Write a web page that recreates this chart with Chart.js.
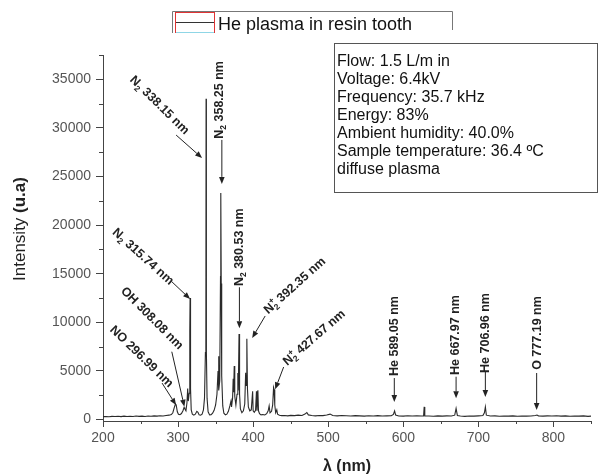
<!DOCTYPE html>
<html>
<head>
<meta charset="utf-8">
<script src="https://cdn.jsdelivr.net/npm/chart.js@4"></script>
<style>
  html, body { margin: 0; padding: 0; background: #fff; }
  #wrap { width: 601px; height: 474px; }
</style>
</head>
<body>
<div id="wrap"><canvas id="chart" width="601" height="474"></canvas></div>
<script>
// spectrum (nm / counts)
const wavelengths = [
  200, 204, 208, 212, 216, 220, 224, 228, 232, 236, 240, 244, 248, 252, 256, 260, 264, 268, 272, 276,
  280, 284, 288, 291, 293, 295, 296.5, 297.5, 299, 300.5, 302.5, 304.5, 306.5, 308, 309, 310.5, 311.8,
  312.8, 313.6, 314.8, 315.6, 316.0, 316.6, 317.5, 319, 321, 323, 325, 326.5, 328, 330, 332, 333.8, 335.2,
  336.4, 337.0, 337.3, 337.7, 338.6, 340, 342, 344, 346, 348, 350, 351.8, 353.2, 353.8, 354.5, 355.5,
  356.5, 356.9, 357.5, 358.1, 359.5, 361, 363, 365, 367, 369, 370.5, 371.2, 372.6, 373.4, 374, 374.8,
  375.5, 377, 378.5, 379.6, 380.2, 381.2, 381.9, 383, 385, 387, 388.8, 390, 390.6, 391.6, 392.4, 393.6,
  395.5, 397.5, 399.3, 400, 401.5, 403.2, 404.4, 405.1, 406.3, 407.1, 408.5, 410.5, 413, 415.5, 418, 420,
  421.3, 422.5, 424.5, 426, 427.2, 427.9, 428.8, 430, 431.5, 432.5, 435, 438, 442, 446, 450, 455, 460,
  465, 469, 471.5, 473.5, 478, 483, 488, 493, 498, 502.5, 506, 512, 518, 524, 530, 536, 542, 548, 554,
  560, 566, 572, 578, 584, 586.8, 588.4, 589.8, 594, 600, 606, 612, 618, 624, 627, 627.8, 628.6, 634,
  640, 646, 652, 658, 664, 668.5, 670.3, 672, 676, 682, 688, 694, 700, 706, 708, 709.3, 710.6, 716, 722,
  728, 734, 740, 746, 752, 758, 764, 770, 776, 778, 780, 786, 792, 798, 804, 810, 816, 822, 828, 834,
  840, 846, 850
];
const intensities = [
  300, 320, 290, 330, 310, 340, 300, 350, 320, 340, 310, 360, 330, 350, 320, 370, 340, 380, 350, 390,
  370, 420, 450, 520, 700, 1250, 1600, 1500, 800, 550, 500, 620, 900, 1250, 1100, 900, 1700,
  3200, 1900, 2700, 9000, 12500, 3200, 1000, 550, 450, 550, 850, 750, 480, 450, 550, 1000, 2200,
  6900, 7200, 33000, 7000, 2200, 800, 480, 500, 650, 950, 1500, 2600, 5000, 6500, 3000, 4000,
  14700, 23300, 14000, 4500, 1400, 650, 480, 550, 850, 1400, 1900, 1300, 2200, 4200, 2800, 5500,
  2400, 1500, 2600, 4800, 3000, 8800, 2600, 1100, 700, 900, 1600, 4800, 3500, 8300, 3200, 1300,
  900, 1000, 2900, 900, 750, 950, 2900, 900, 3000, 900, 600, 480, 520, 470, 600, 900,
  1400, 700, 850, 1500, 3300, 3100, 1500, 700, 1000, 550, 450, 400, 420, 380, 430, 400, 450,
  420, 560, 720, 480, 420, 380, 420, 400, 460, 560, 420, 380, 420, 390, 360, 400, 380, 350, 390,
  370, 400, 360, 380, 390, 520, 880, 460, 370, 350, 390, 360, 380, 360, 370, 1300, 380, 370,
  340, 380, 350, 380, 360, 450, 1150, 420, 360, 330, 370, 350, 380, 420, 700, 1300, 450, 360, 380,
  340, 370, 350, 380, 340, 370, 350, 360, 420, 460, 380, 350, 380, 360, 390, 350, 380, 340, 370,
  350, 380, 330, 350
];

// axis ticks
const xTicks = [200, 300, 400, 500, 600, 700, 800];
const yTicks = [0, 5000, 10000, 15000, 20000, 25000, 30000, 35000];

// line assignments: label text (_ = subscript, ^ = superscript), arrow tip in data units
const annLabels = ['NO 296.99 nm', 'OH 308.08 nm', 'N_2 315.74 nm', 'N_2 338.15 nm', 'N_2 358.25 nm',
  'N_2 380.53 nm', 'N_2^+ 392.35 nm', 'N_2^+ 427.67 nm', 'He 589.05 nm', 'He 667.97 nm',
  'He 706.96 nm', 'O 777.19 nm'];
const annTipX = [297.3, 308.4, 316, 332, 358.3, 381.7, 398.7, 429.3, 588, 670.3, 709.3, 777.6];
const annTipY = [1490, 1320, 12400, 26900, 24240, 9390, 8390, 3110, 1800, 2180, 2320, 980];

const legendLabel = 'He plasma in resin tooth';
const infoLines = ['Flow: 1.5 L/m in', 'Voltage: 6.4kV', 'Frequency: 35.7 kHz', 'Energy: 83%',
  'Ambient humidity: 40.0%', 'Sample temperature: 36.4 ºC', 'diffuse plasma'];

// where each label sits relative to its arrow tip (pixels) and its angle
const annLayout = [
  { tail: [-14, -22], text: [-34, -49], ang: 44 },
  { tail: [-12.6, -55], text: [-31.8, -89], ang: 45 },
  { tail: [-18.3, -17.3], text: [-46.5, -43], ang: 42 },
  { tail: [-26, -23], text: [-42, -53.5], ang: 44.5 },
  { tail: [0, -44], text: [-3.7, -84], ang: -90 },
  { tail: [0, -41], text: [-1.3, -81], ang: -90 },
  { tail: [13, -22], text: [42, -53], ang: -42 },
  { tail: [8.5, -22.3], text: [38.5, -52.3], ang: -41 },
  { tail: [0, -24], text: [-1, -66], ang: -90 },
  { tail: [0, -21.6], text: [-1.4, -63.3], ang: -90 },
  { tail: [0, -25], text: [-0.7, -64], ang: -90 },
  { tail: [0, -37], text: [0, -77], ang: -90 }
];

const FONT = "'Liberation Sans', Arial, sans-serif";

function parseLabel(s) {
  const parts = [];
  for (let i = 0; i < s.length; i++) {
    const c = s[i];
    if (c === '_') {
      parts.push({ t: s[++i], k: 'sub' });
    } else if (c === '^') {
      const prev = parts[parts.length - 1];
      parts.push({ t: s[++i], k: 'sup', stack: !!(prev && prev.k === 'sub') });
    } else {
      const prev = parts[parts.length - 1];
      if (prev && prev.k === 'norm') prev.t += c;
      else parts.push({ t: c, k: 'norm' });
    }
  }
  return parts;
}

function drawRich(ctx, s, cx, cy, angDeg) {
  const big = 'bold 12.5px ' + FONT;
  const small = 'bold 8.5px ' + FONT;
  const parts = parseLabel(s);
  let total = 0;
  const xs = [];
  let lastW = 0;
  parts.forEach(p => {
    ctx.font = p.k === 'norm' ? big : small;
    const w = ctx.measureText(p.t).width;
    if (p.stack) {
      xs.push(total - lastW);
      if (w > lastW) total += w - lastW;
    } else {
      xs.push(total);
      total += w;
    }
    lastW = w;
  });
  ctx.save();
  ctx.translate(cx, cy);
  ctx.rotate(angDeg * Math.PI / 180);
  ctx.fillStyle = '#222';
  ctx.textBaseline = 'alphabetic';
  ctx.textAlign = 'left';
  parts.forEach((p, i) => {
    ctx.font = p.k === 'norm' ? big : small;
    let dy = 4.5;
    if (p.k === 'sub') dy = 7.5;
    if (p.k === 'sup') dy = -1;
    ctx.fillText(p.t, xs[i] - total / 2, dy);
  });
  ctx.restore();
}

function drawArrow(ctx, x0, y0, x1, y1) {
  const a = Math.atan2(y1 - y0, x1 - x0);
  const hl = 7, hw = 2.8;
  const bx = x1 - hl * Math.cos(a), by = y1 - hl * Math.sin(a);
  ctx.beginPath();
  ctx.moveTo(x0, y0);
  ctx.lineTo(bx, by);
  ctx.stroke();
  ctx.beginPath();
  ctx.moveTo(x1, y1);
  ctx.lineTo(bx + hw * Math.sin(a), by - hw * Math.cos(a));
  ctx.lineTo(bx - hw * Math.sin(a), by + hw * Math.cos(a));
  ctx.closePath();
  ctx.fill();
}

const extras = {
  id: 'extras',
  afterDraw(chart) {
    const { ctx, chartArea, scales: { x, y } } = chart;
    ctx.save();

    // minor ticks
    ctx.strokeStyle = '#444';
    ctx.lineWidth = 1;
    for (let v = 2500; v <= y.max; v += 5000) {
      const py = Math.round(y.getPixelForValue(v)) + 0.5;
      ctx.beginPath();
      ctx.moveTo(chartArea.left - 4, py);
      ctx.lineTo(chartArea.left, py);
      ctx.stroke();
    }
    for (let v = 250; v <= x.max; v += 100) {
      const px = Math.round(x.getPixelForValue(v)) + 0.5;
      ctx.beginPath();
      ctx.moveTo(px, chartArea.bottom);
      ctx.lineTo(px, chartArea.bottom + 3);
      ctx.stroke();
    }

    // annotations
    ctx.strokeStyle = '#222';
    ctx.fillStyle = '#222';
    annLabels.forEach((lab, i) => {
      const tx = x.getPixelForValue(annTipX[i]);
      const ty = y.getPixelForValue(annTipY[i]);
      const L = annLayout[i];
      drawArrow(ctx, tx + L.tail[0], ty + L.tail[1], tx, ty);
      drawRich(ctx, lab, tx + L.text[0], ty + L.text[1], L.ang);
    });

    // axis titles
    ctx.fillStyle = '#222';
    ctx.save();
    ctx.translate(20, 229);
    ctx.rotate(-Math.PI / 2);
    ctx.textBaseline = 'middle';
    ctx.textAlign = 'left';
    ctx.font = '17px ' + FONT;
    const w1 = ctx.measureText('Intensity ').width;
    ctx.font = 'bold 17px ' + FONT;
    const w2 = ctx.measureText('(u.a)').width;
    ctx.font = '17px ' + FONT;
    ctx.fillText('Intensity ', -(w1 + w2) / 2, 0);
    ctx.font = 'bold 17px ' + FONT;
    ctx.fillText('(u.a)', -(w1 + w2) / 2 + w1, 0);
    ctx.restore();

    ctx.font = 'bold 16px ' + FONT;
    ctx.textAlign = 'center';
    ctx.textBaseline = 'middle';
    ctx.fillText('λ (nm)', 347, 467);

    // info box
    ctx.fillStyle = '#fff';
    ctx.fillRect(334.5, 43.5, 263, 149);
    ctx.strokeStyle = '#555';
    ctx.strokeRect(334.5, 43.5, 263, 149);
    ctx.fillStyle = '#111';
    ctx.font = '16px ' + FONT;
    ctx.textAlign = 'left';
    infoLines.forEach((t, i) => ctx.fillText(t, 337, 62 + i * 18));

    // legend (cut off at the bottom as in the picture)
    ctx.save();
    ctx.beginPath();
    ctx.rect(0, 0, 601, 34);
    ctx.clip();
    ctx.strokeStyle = '#777';
    ctx.beginPath();
    ctx.moveTo(172.5, 33); ctx.lineTo(172.5, 11.5); ctx.lineTo(452.5, 11.5); ctx.lineTo(452.5, 30);
    ctx.stroke();
    ctx.strokeStyle = '#e03434';
    ctx.strokeRect(175.5, 12.5, 39, 20);
    ctx.strokeStyle = '#333';
    ctx.beginPath(); ctx.moveTo(176, 22.5); ctx.lineTo(214, 22.5); ctx.stroke();
    ctx.strokeStyle = '#8fd6e6';
    ctx.beginPath(); ctx.moveTo(176, 32.5); ctx.lineTo(214, 32.5); ctx.stroke();
    ctx.fillStyle = '#111';
    ctx.font = '18px ' + FONT;
    ctx.textBaseline = 'alphabetic';
    ctx.fillText(legendLabel, 218, 30);
    ctx.restore();

    ctx.restore();
  }
};

const ctx = document.getElementById('chart').getContext('2d');
new Chart(ctx, {
  type: 'line',
  data: {
    datasets: [{
      label: legendLabel,
      data: wavelengths.map((w, i) => ({ x: w, y: intensities[i] })),
      borderColor: '#2a2a2a',
      borderWidth: 1.1,
      pointRadius: 0,
      tension: 0,
      fill: false
    }]
  },
  options: {
    responsive: false,
    animation: false,
    layout: { padding: { top: 55, right: 10, left: 0, bottom: 0 } },
    plugins: { legend: { display: false }, tooltip: { enabled: false } },
    scales: {
      x: {
        type: 'linear',
        min: 200,
        max: 850,
        border: { color: '#444', width: 1 },
        grid: { drawOnChartArea: false, tickLength: 6, color: '#444' },
        afterBuildTicks: s => { s.ticks = xTicks.map(v => ({ value: v })); },
        ticks: { color: '#555', padding: 3, maxRotation: 0, autoSkip: false,
          callback: v => String(v), font: { size: 14, family: FONT } },
        afterFit: s => { s.height = 53; }
      },
      y: {
        min: -150,
        max: 37500,
        border: { color: '#444', width: 1 },
        grid: { drawOnChartArea: false, tickLength: 7, color: '#444' },
        afterBuildTicks: s => { s.ticks = yTicks.map(v => ({ value: v })); },
        ticks: { color: '#555', padding: 5, autoSkip: false,
          callback: v => String(v), font: { size: 14, family: FONT } },
        afterFit: s => { s.width = 103; }
      }
    }
  },
  plugins: [extras]
});
</script>
</body>
</html>
